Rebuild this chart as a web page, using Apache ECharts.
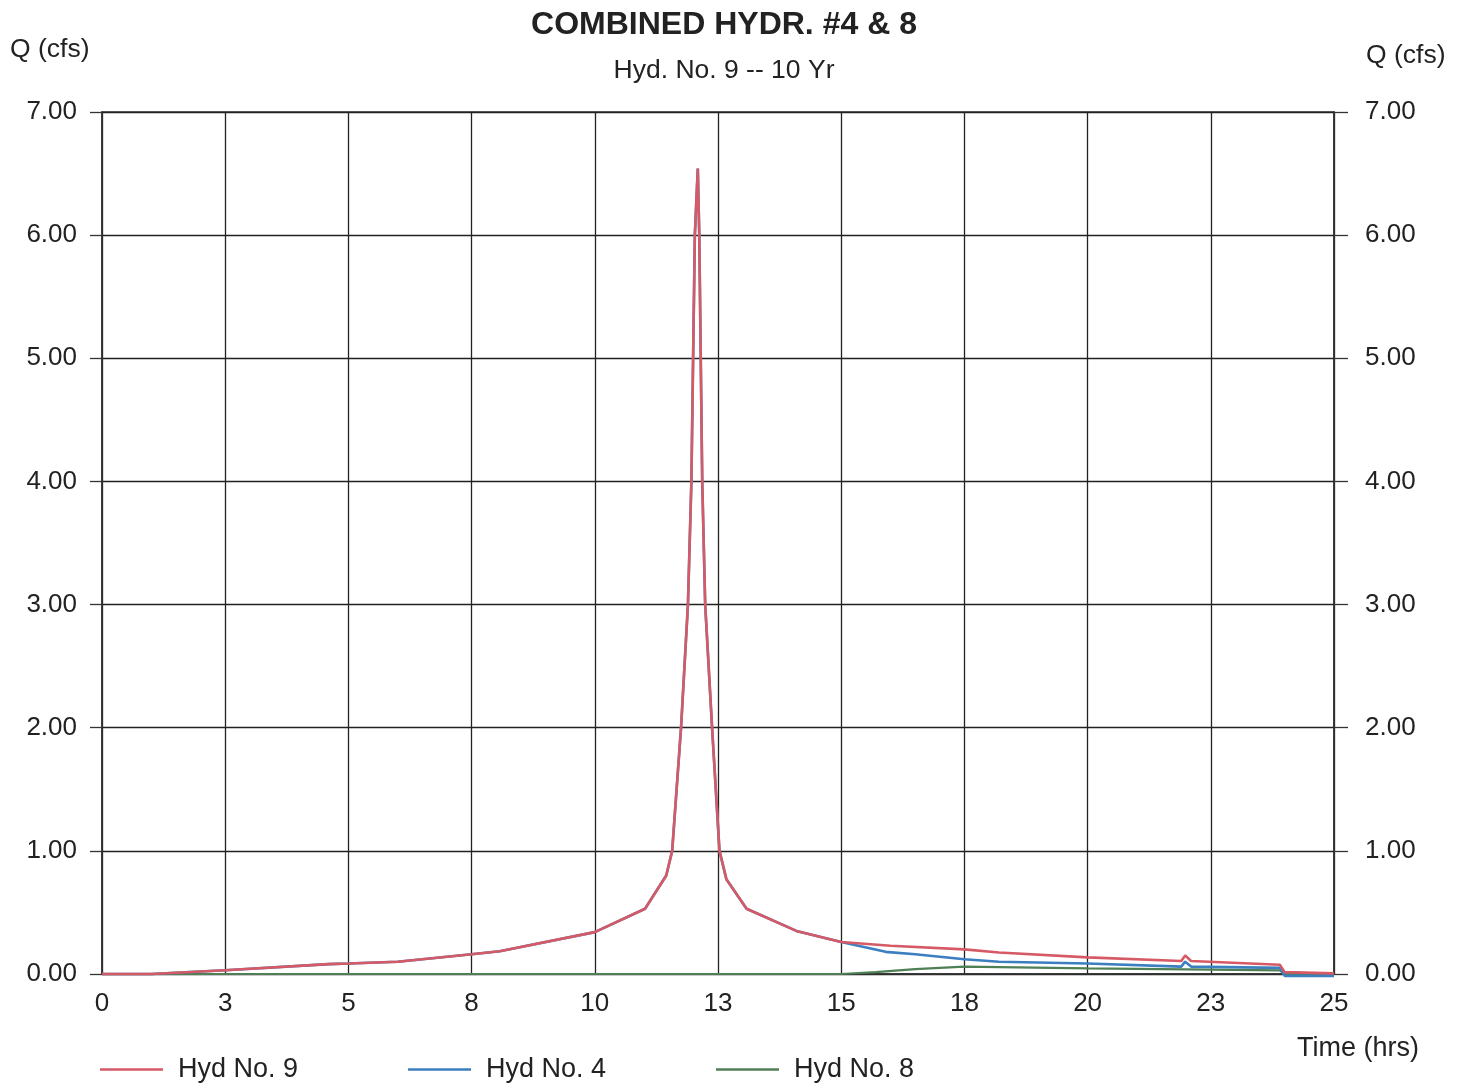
<!DOCTYPE html>
<html>
<head>
<meta charset="utf-8">
<script src="https://cdn.jsdelivr.net/npm/echarts@6/dist/echarts.min.js"></script>
<style>
html,body{margin:0;padding:0;background:#fff;}
#c{width:1463px;height:1087px;}
</style>
</head>
<body>
<div id="c"></div>
<script>
// Data: [time (hrs), Q (cfs)]
const hyd9Time = [0, 1.0, 1.5, 2.5, 4.6, 5.0, 6.0, 7.5, 8.07, 10.0, 11.02, 11.45, 11.57, 11.75, 11.89, 11.96, 12.03, 12.09, 12.12, 12.18, 12.24, 12.38, 12.53, 12.67, 13.08, 14.09, 15.0, 16.0, 17.5, 18.2, 20.0, 21.9, 21.98, 22.1, 23.9, 24.0, 25.0];
const hyd9Q    = [0, 0, 0.01, 0.03, 0.08, 0.085, 0.10, 0.16, 0.185, 0.34, 0.53, 0.80, 1.00, 2.00, 3.00, 4.00, 6.00, 6.54, 6.00, 4.00, 3.00, 2.00, 1.00, 0.77, 0.53, 0.35, 0.26, 0.23, 0.20, 0.175, 0.135, 0.105, 0.15, 0.105, 0.075, 0.015, 0.005];

const hyd4Time = [0, 1.0, 1.5, 2.5, 4.6, 5.0, 6.0, 7.5, 8.07, 10.0, 11.02, 11.45, 11.57, 11.75, 11.89, 11.96, 12.03, 12.09, 12.12, 12.18, 12.24, 12.38, 12.53, 12.67, 13.08, 14.09, 15.0, 15.9, 16.5, 17.5, 18.2, 20.0, 21.9, 21.98, 22.1, 23.9, 24.0, 25.0];
const hyd4Q    = [0, 0, 0.01, 0.03, 0.08, 0.085, 0.10, 0.16, 0.185, 0.34, 0.53, 0.80, 1.00, 2.00, 3.00, 4.00, 6.00, 6.54, 6.00, 4.00, 3.00, 2.00, 1.00, 0.77, 0.53, 0.35, 0.26, 0.18, 0.16, 0.12, 0.10, 0.085, 0.06, 0.10, 0.06, 0.05, -0.015, -0.015];

const hyd8Time = [0, 15.0, 15.7, 16.5, 17.5, 20.0, 22.5, 23.9, 24.0, 25.0];
const hyd8Q    = [0, 0, 0.015, 0.04, 0.06, 0.045, 0.035, 0.03, 0.0, 0.0];

const xTicks = { min: 0, max: 25, interval: 2.5 };
const yTicks = { min: 0, max: 7, interval: 1 };

const seriesNames = ['Hyd No. 9', 'Hyd No. 4', 'Hyd No. 8'];
const colors = ['#d65a66', '#3b7fc0', '#4f7f55'];

function pairs(t, q) { return t.map((x, i) => [x, q[i]]); }

const font = "'Liberation Sans', Arial, sans-serif";
const chart = echarts.init(document.getElementById('c'), null, {renderer: 'canvas'});

function legendAt(name, left) {
  return {
    data: [{name: name, icon: 'rect'}],
    left: left, top: 1056, padding: 0,
    itemWidth: 63, itemHeight: 2.5,
    textStyle: {fontFamily: font, fontSize: 27, color: '#222', padding: [0, 0, 0, 10]},
    selectedMode: false
  };
}

const option = {
  backgroundColor: '#fff',
  animation: false,
  title: [
    {text: 'COMBINED HYDR. #4 & 8', left: 719, top: 4, textAlign: 'center',
     textStyle: {fontFamily: font, fontSize: 32, fontWeight: 'bold', color: '#222'}},
    {text: 'Hyd. No. 9 -- 10 Yr', left: 719, top: 52, textAlign: 'center',
     textStyle: {fontFamily: font, fontSize: 26.5, fontWeight: 'normal', color: '#222'}}
  ],
  graphic: [
    {type: 'text', left: 10, top: 36, style: {text: 'Q (cfs)', font: "26.5px 'Liberation Sans', Arial", fill: '#222'}},
    {type: 'text', left: 1366, top: 42, style: {text: 'Q (cfs)', font: "26.5px 'Liberation Sans', Arial", fill: '#222'}},
    {type: 'text', left: 1297, top: 1035, style: {text: 'Time (hrs)', font: "27px 'Liberation Sans', Arial", fill: '#222'}}
  ],
  legend: [
    legendAt(seriesNames[0], 100),
    legendAt(seriesNames[1], 408),
    legendAt(seriesNames[2], 716)
  ],
  grid: {left: 102, right: 129, top: 112, bottom: 113, show: true, borderColor: '#333', borderWidth: 1.5},
  xAxis: {
    type: 'value', min: xTicks.min, max: xTicks.max, interval: xTicks.interval,
    axisLine: {show: true, lineStyle: {color: '#333', width: 1.5}},
    axisTick: {show: false},
    splitLine: {show: true, lineStyle: {color: '#222', width: 1.3}},
    axisLabel: {fontFamily: font, fontSize: 26, color: '#222', margin: 17,
      formatter: v => String(Math.round(v))}
  },
  yAxis: [
    {type: 'value', position: 'left', min: yTicks.min, max: yTicks.max, interval: yTicks.interval,
     axisLine: {show: true, lineStyle: {color: '#333', width: 1.5}},
     axisTick: {show: true, length: 12, lineStyle: {color: '#333', width: 1.3}},
     splitLine: {show: true, lineStyle: {color: '#222', width: 1.3}},
     axisLabel: {fontFamily: font, fontSize: 26, color: '#222', margin: 25, formatter: v => v.toFixed(2)}},
    {type: 'value', position: 'right', min: yTicks.min, max: yTicks.max, interval: yTicks.interval,
     axisLine: {show: true, lineStyle: {color: '#333', width: 1.5}},
     axisTick: {show: true, length: 14, lineStyle: {color: '#333', width: 1.3}},
     splitLine: {show: false},
     axisLabel: {fontFamily: font, fontSize: 26, color: '#222', margin: 31, formatter: v => v.toFixed(2)}}
  ],
  series: [
    {name: seriesNames[2], type: 'line', data: pairs(hyd8Time, hyd8Q), symbol: 'none', clip: false,
     lineStyle: {color: colors[2], width: 2.2}, itemStyle: {color: colors[2]}},
    {name: seriesNames[1], type: 'line', data: pairs(hyd4Time, hyd4Q), symbol: 'none', clip: false,
     lineStyle: {color: colors[1], width: 2.6}, itemStyle: {color: colors[1]}},
    {name: seriesNames[0], type: 'line', data: pairs(hyd9Time, hyd9Q), symbol: 'none', clip: false,
     lineStyle: {color: colors[0], width: 2.6}, itemStyle: {color: colors[0]}}
  ]
};
chart.setOption(option);
</script>
</body>
</html>
